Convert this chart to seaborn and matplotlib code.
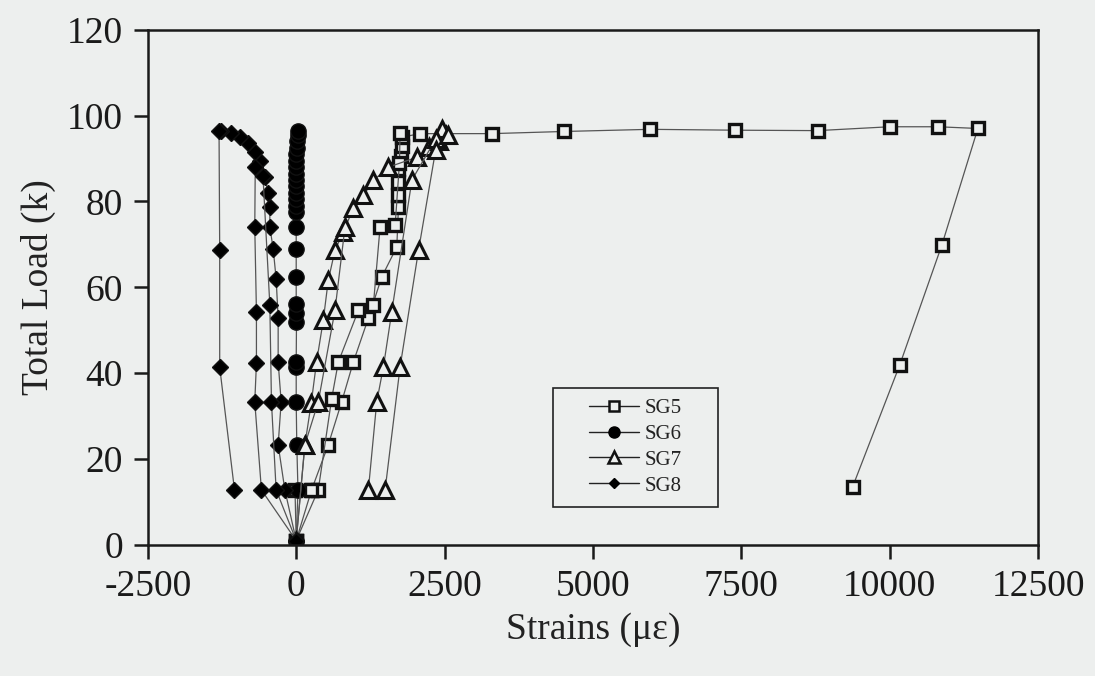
# %%
# imports
import numpy as np
import pandas as pd
import matplotlib.pyplot as plt
import seaborn as sns
from matplotlib.lines import Line2D
from matplotlib.patches import Rectangle


# %%
# values (strain in micro-strain, load in kips)
# each gauge has a few separate line strokes, stroke id tells which one

sg5_strain = [0, 259, 540, 766, 963, 1216, 1441, 1695, 1723, 1723, 1723, 1723, 1760, 1780, 1790,
              2089, 3294, 4510, 5963, 7399, 8784, 10000, 10811, 11486, 10878, 10169, 9375,
              0, 372, 597, 710, 1047, 1300, 1413, 1667, 1740, 1750,
              0, -20, 250]
sg5_load = [1, 12.8, 23.3, 33.3, 42.6, 52.8, 62.4, 69.4, 78.7, 81.4, 84.5, 87.6, 90.5, 93, 95,
            95.8, 95.8, 96.3, 96.8, 96.6, 96.5, 97.4, 97.4, 97, 69.8, 41.9, 13.5,
            1, 12.8, 34, 42.6, 54.6, 55.8, 74, 74.4, 89, 96,
            1, 12.8, 12.8]
sg5_stroke = [1] * 27 + [2] * 10 + [3] * 3

sg6_strain = [0, 30, 10, 0, 0, 0, 5, 0, 0, 0, 0, 0, 0, 0, 0, 0, 0, 0, 0, 0, 0, 0, 10, 20, 25, 30]
sg6_load = [1, 12.8, 23.3, 33.3, 41.5, 42.5, 52, 54, 56, 62.4, 69, 74, 77.5, 79, 80.5, 82,
            83.5, 85, 86.5, 88, 89.5, 91, 92.5, 94, 95.5, 96.5]
sg6_stroke = [1] * 26

sg7_strain = [0, 146, 253, 343, 456, 540, 653, 794, 963, 1132, 1301, 1554, 2033, 2230, 2400, 2520, 2450,
              0, 146, 372, 653, 822,
              1216, 1357, 1470, 1610, 1950, 2350,
              1498, 1751, 2061, 2350, 2550]
sg7_load = [1, 23.3, 33, 42.6, 52.3, 61.6, 68.6, 72.9, 78.4, 81.4, 84.9, 88, 90.3, 92.6, 94, 95.5, 96.8,
            1, 23.3, 33.3, 54.6, 74,
            12.8, 33.3, 41.5, 54.3, 85, 94.5,
            12.8, 41.5, 68.6, 92, 95.5]
sg7_stroke = [1] * 17 + [2] * 5 + [3] * 6 + [4] * 5

sg8_strain = [0, -191, -304, -253, -304, -304, -338, -388, -444, -444, -473, -529, -613, -700, -810,
              -950, -1100, -1260, -1300, -1289, -1289, -1040,
              -690, -698, -670, -670, -698, -586, 0,
              -560, -444, -417, -338, 0]
sg8_load = [1, 12.8, 23.3, 33.3, 42.6, 52.8, 62, 69, 74, 78.7, 81.9, 85.7, 89.5, 91.5, 93.5,
            95, 96, 96.5, 96.3, 68.6, 41.4, 12.8,
            88, 74, 54.3, 42.3, 33.3, 12.8, 1,
            86, 55.8, 33.3, 12.8, 1]
sg8_stroke = [1] * 22 + [2] * 7 + [3] * 5

gauges = ["SG5", "SG6", "SG7", "SG8"]


# %%
# put everything into one long table
frames = []
for name, xs, ys, st in [("SG5", sg5_strain, sg5_load, sg5_stroke),
                         ("SG6", sg6_strain, sg6_load, sg6_stroke),
                         ("SG7", sg7_strain, sg7_load, sg7_stroke),
                         ("SG8", sg8_strain, sg8_load, sg8_stroke)]:
    frames.append(pd.DataFrame({"gauge": name, "stroke": st, "strain": xs, "load": ys}))
strain_data = pd.concat(frames, ignore_index=True)


# %%
# styling - scanned paper look, Times-like font
bg = "#edefee"
sns.set_theme(style="ticks")
plt.rcParams["font.family"] = ["Liberation Serif", "DejaVu Serif"]
plt.rcParams["axes.unicode_minus"] = False

# marker look per gauge
marker_style = {
    "SG5": dict(marker="s", markersize=9, markerfacecolor=bg, markeredgewidth=2.4),
    "SG6": dict(marker="o", markersize=11, markerfacecolor="black", markeredgewidth=1),
    "SG7": dict(marker="^", markersize=11.5, markerfacecolor=bg, markeredgewidth=2.2),
    "SG8": dict(marker="D", markersize=8, markerfacecolor="black", markeredgewidth=1),
}


# %%
# plot
fig, ax = plt.subplots(figsize=(10.95, 6.76), dpi=100)
fig.patch.set_facecolor(bg)
ax.set_facecolor(bg)
fig.subplots_adjust(left=0.135, right=0.948, top=0.956, bottom=0.194)

for g in gauges:
    sns.lineplot(
        data=strain_data[strain_data["gauge"] == g],
        x="strain",
        y="load",
        units="stroke",
        estimator=None,
        sort=False,
        color="#555555",
        linewidth=0.9,
        markeredgecolor="#111111",
        legend=False,
        ax=ax,
        **marker_style[g]
    )

ax.set_xlim(-2500, 12500)
ax.set_ylim(0, 120)
ax.set_xticks(np.arange(-2500, 12501, 2500))
ax.set_yticks(np.arange(0, 121, 20))
ax.set_xlabel("Strains (\u03bc\u03b5)", fontsize=27, color="#222222", labelpad=6)
ax.set_ylabel("Total Load (k)", fontsize=27, color="#222222", labelpad=8)

ax.tick_params(direction="out", length=10, width=1.8, pad=8, labelsize=27,
               colors="#1a1a1a", top=False, right=False)
for sp in ax.spines.values():
    sp.set_visible(True)
    sp.set_linewidth(1.8)
    sp.set_color("#1a1a1a")


# %%
# legend - boxed, sitting in the middle bottom of the plot
ax.add_patch(Rectangle((0.455, 0.074), 0.185, 0.231, transform=ax.transAxes,
                       facecolor=bg, edgecolor="#222222", linewidth=1.2, zorder=5))

handles = [
    Line2D([], [], color="#222222", lw=1, marker="s", markersize=6.5, markerfacecolor=bg,
           markeredgecolor="#111111", markeredgewidth=1.8),
    Line2D([], [], color="#222222", lw=1, marker="o", markersize=8, markerfacecolor="black",
           markeredgecolor="black"),
    Line2D([], [], color="#222222", lw=1, marker="^", markersize=8, markerfacecolor=bg,
           markeredgecolor="#111111", markeredgewidth=1.8),
    Line2D([], [], color="#222222", lw=1, marker="D", markersize=5.5, markerfacecolor="black",
           markeredgecolor="black"),
]
leg = ax.legend(handles, gauges, loc="center", bbox_to_anchor=(0.5475, 0.19),
                frameon=False, fontsize=15, handlelength=2.4, handletextpad=0.3,
                labelspacing=0.3)
leg.set_zorder(6)
for t in leg.get_texts():
    t.set_color("#222222")

fig.savefig("out.png", dpi=100, facecolor=bg)
